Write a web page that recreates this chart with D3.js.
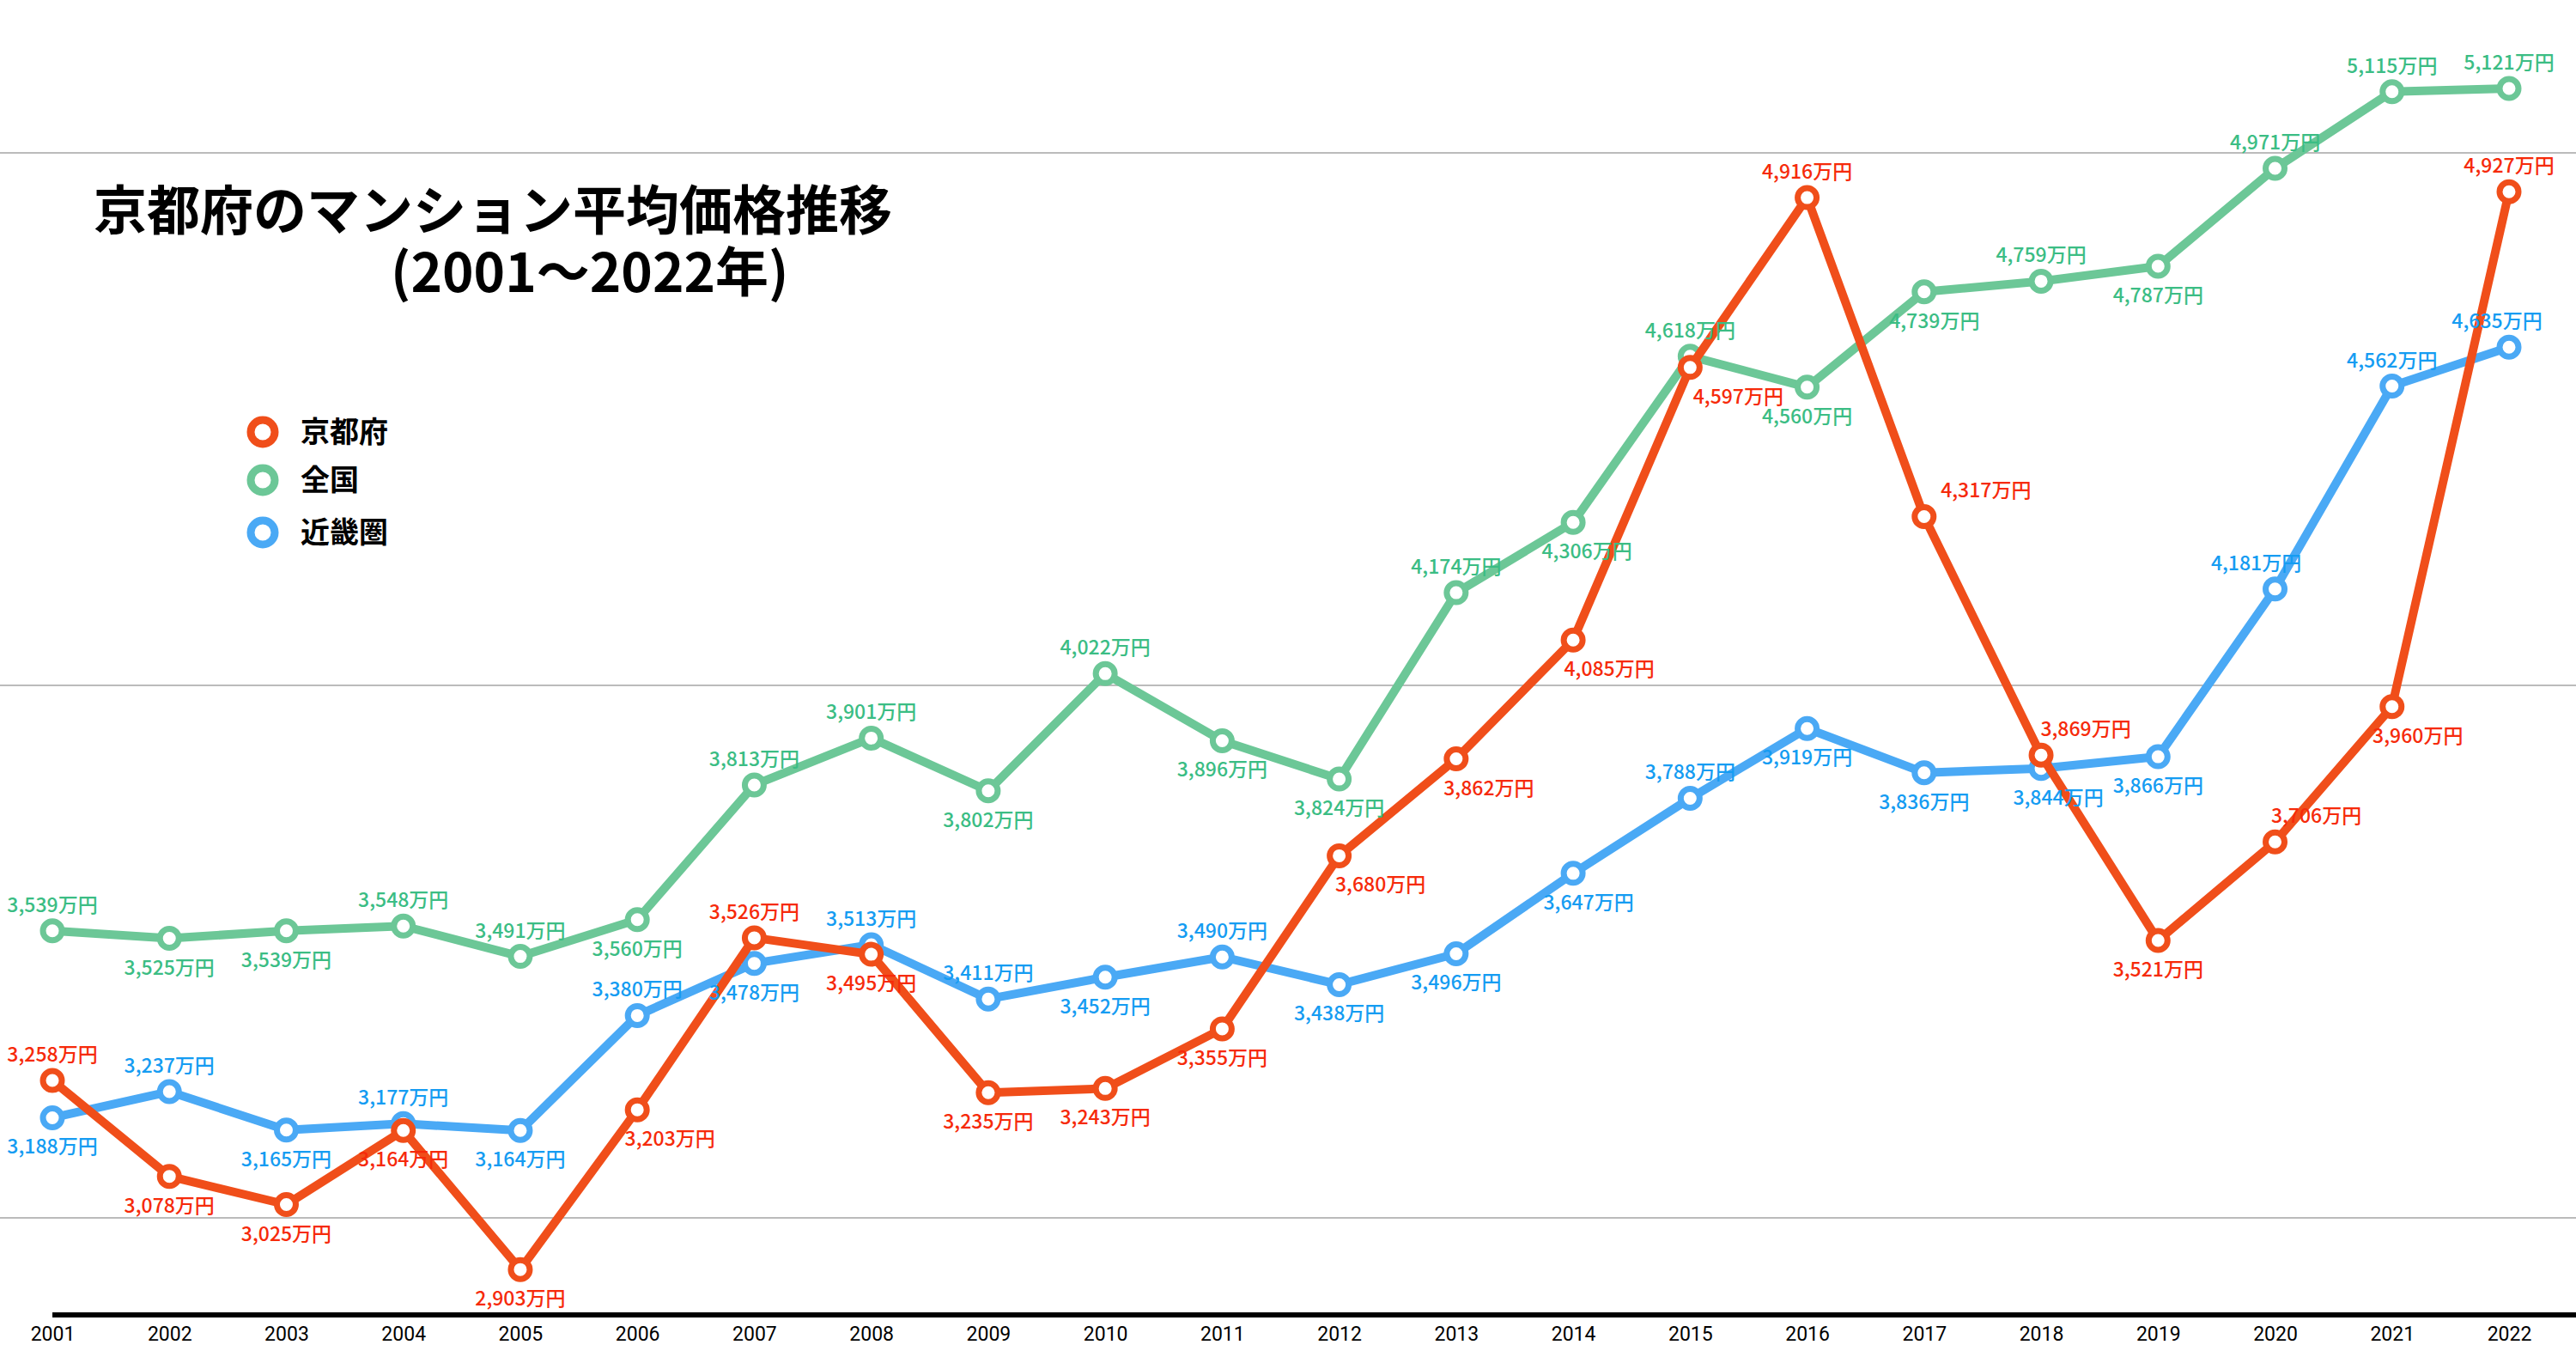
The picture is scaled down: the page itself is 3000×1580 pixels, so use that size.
<!DOCTYPE html>
<html><head><meta charset="utf-8">
<script src="https://cdn.jsdelivr.net/npm/d3@7"></script>
<style>body{margin:0;background:#fff;} text{font-family:"Noto Sans CJK JP","Noto Sans",sans-serif;}</style>
</head><body><svg id="chart" width="3000" height="1580"></svg>
<script>
// data
let years = d3.range(2001, 2023);
let kyoto = [3258,3078,3025,3164,2903,3203,3526,3495,3235,3243,3355,3680,3862,4085,4597,4916,4317,3869,3521,3706,3960,4927];
let zenkoku = [3539,3525,3539,3548,3491,3560,3813,3901,3802,4022,3896,3824,4174,4306,4618,4560,4739,4759,4787,4971,5115,5121];
let kinki = [3188,3237,3165,3177,3164,3380,3478,3513,3411,3452,3490,3438,3496,3647,3788,3919,3836,3844,3866,4181,4562,4635];
// label side: 1 = above, -1 = below
let kyotoSide = [1,-1,-1,-1,-1,-1,1,-1,-1,-1,-1,-1,-1,-1,-1,1,1,1,-1,1,-1,1];
let zenkokuSide = [1,-1,-1,1,1,-1,1,1,-1,1,-1,-1,1,-1,1,-1,-1,1,-1,1,1,1];
let kinkiSide = [-1,1,-1,1,-1,1,-1,1,1,-1,1,-1,-1,-1,1,-1,-1,-1,-1,1,1,1];
// horizontal label nudges
let kyotoDx = [0,0,0,0,0,38,0,0,0,0,0,48,38,42,56,0,72,52,0,48,30,0];
let zenkokuDx = [0,0,0,0,0,0,0,0,0,0,0,0,0,16,0,0,12,0,0,0,0,0];
let kinkiDx = [0,0,0,0,0,0,0,0,0,0,0,0,0,18,0,0,0,20,0,-22,0,-14];
let gridValues = [3000, 4000, 5000];

let series = [
    {name: "京都府", values: kyoto, side: kyotoSide, dx: kyotoDx, line: "#f04e1a", label: "#f62a0a"},
    {name: "全国", values: zenkoku, side: zenkokuSide, dx: zenkokuDx, line: "#6cc797", label: "#3bbd84"},
    {name: "近畿圏", values: kinki, side: kinkiSide, dx: kinkiDx, line: "#4aa9f5", label: "#159cf2"}
];

let svg = d3.select("#chart");
let x = d3.scalePoint().domain(years).range([61, 2922]);
let y = d3.scaleLinear().domain([3000, 5000]).range([1418, 178]);

// gridlines
svg.selectAll(".grid").data(gridValues).enter().append("line")
    .attr("x1", 0).attr("x2", 3000)
    .attr("y1", d => y(d)).attr("y2", d => y(d))
    .attr("stroke", "#bbb").attr("stroke-width", 2);

// x axis
let xAxis = svg.append("g").attr("transform", "translate(0,1531)")
    .call(d3.axisBottom(x).tickSize(0).tickPadding(14));
xAxis.select(".domain").remove();
svg.append("line").attr("x1", 61).attr("x2", 3000).attr("y1", 1531).attr("y2", 1531)
    .attr("stroke", "#000").attr("stroke-width", 6);
xAxis.selectAll("text").style("font-size", "23px").style("font-family", "Roboto, sans-serif").attr("fill", "#000");

let line = d3.line().x((d, i) => x(years[i])).y(d => y(d));

// draw order: kinki, zenkoku, kyoto (kyoto on top)
[series[2], series[1], series[0]].forEach(function(s) {
    svg.append("path").datum(s.values)
        .attr("d", line).attr("fill", "none")
        .attr("stroke", s.line).attr("stroke-width", 10).attr("stroke-linejoin", "round");
    svg.append("g").selectAll("circle").data(s.values).enter().append("circle")
        .attr("cx", (d, i) => x(years[i])).attr("cy", d => y(d)).attr("r", 11)
        .attr("fill", "#fff").attr("stroke", s.line).attr("stroke-width", 7);
});
series.forEach(function(s) {
    svg.append("g").selectAll("text").data(s.values).enter().append("text")
        .attr("x", (d, i) => x(years[i]) + s.dx[i])
        .attr("y", (d, i) => y(d) + (s.side[i] > 0 ? -22 : 42))
        .attr("text-anchor", "middle")
        .style("font-size", "23px")
        .style("font-weight", "500")
        .attr("fill", s.label)
        .text(d => d3.format(",")(d) + "万円");
});

// title
svg.append("text").attr("x", 109).attr("y", 268).style("font-size", "62px").style("font-weight", "bold")
    .text("京都府のマンション平均価格推移");
svg.append("text").attr("x", 455).attr("y", 340).style("font-size", "62px").style("font-weight", "bold")
    .text("(2001～2022年)");

// legend
let legend = svg.append("g").selectAll("g").data(series).enter().append("g")
    .attr("transform", (d, i) => "translate(306," + [503, 559, 620][i] + ")");
legend.append("circle").attr("r", 14).attr("fill", "#fff")
    .attr("stroke", d => d.line).attr("stroke-width", 9);
legend.append("text").attr("x", 44).attr("y", 12).style("font-size", "34px").style("font-weight", "bold")
    .text(d => d.name);
</script></body></html>
